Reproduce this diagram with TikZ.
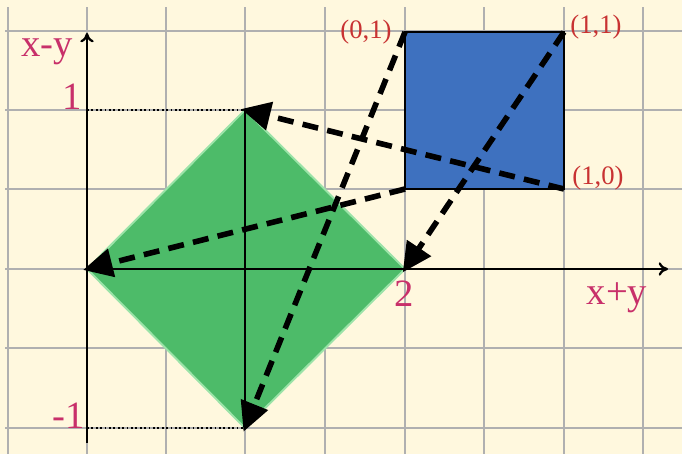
\documentclass[tikz,border=0pt]{standalone}
\usepackage{fontspec}
\setmainfont{Liberation Serif}
\usetikzlibrary{arrows.meta}
\definecolor{bgc}{HTML}{FFF8DE}
\definecolor{gridc}{HTML}{B0B0B0}
\definecolor{greenf}{HTML}{4DBB69}
\definecolor{greene}{HTML}{9BE3A8}
\definecolor{bluef}{HTML}{3E71BF}
\definecolor{labc}{HTML}{C8306A}
\definecolor{cornc}{HTML}{C83232}
\tikzset{
  axis/.style={line width=1.7pt,-{To[length=7pt,width=10pt]}},
  mapArrow/.style={line width=4.2pt,dash pattern=on 12pt off 7pt,-{Triangle[length=22pt,width=21pt]},shorten >=-3pt},
  ticklab/.style={text=labc,font=\fontsize{29}{29}\selectfont,inner sep=0pt},
  cornlab/.style={text=cornc,font=\fontsize{20}{20}\selectfont,inner sep=0pt},
  dotline/.style={line width=1.3pt,dotted}
}
\begin{document}
\begin{tikzpicture}[x=0.75pt,y=-0.75pt]
\fill[bgc] (0,0) rectangle (682,454);
\useasboundingbox (0,0) rectangle (682,454);
% grid
\foreach \gx in {8,87,166,245,325,405,484,564,643}
  \draw[gridc,line width=0.9pt] (\gx,7) -- (\gx,454);
\foreach \gy in {31,110,189,269,348,428}
  \draw[gridc,line width=0.9pt] (5,\gy) -- (682,\gy);
% diamond
\coordinate (O) at (87,269);
\coordinate (T) at (245,110);
\coordinate (R) at (405,269);
\coordinate (B) at (245,428);
\fill[greenf] (O) -- (T) -- (R) -- (B) -- cycle;
\draw[greene,line width=1.5pt] (O) -- (T) -- (R) -- (B) -- cycle;
% blue square
\coordinate (S00) at (405,189);
\coordinate (S10) at (564,189);
\coordinate (S11) at (564,32);
\coordinate (S01) at (405,32);
\draw[fill=bluef,line width=1.6pt] (S00) rectangle (S11);
% axes
\coordinate (xs) at (87,269);
\coordinate (xe) at (668,269);
\coordinate (ys) at (87,443);
\coordinate (ye) at (87,33);
\draw[axis] (xs) -- (xe);
\draw[axis] (ys) -- (ye);
\draw[line width=1.3pt] (T) -- (B);
% dotted guides
\coordinate (y1) at (87,110);
\coordinate (ym1) at (87,428);
\draw[dotline] (y1) -- (T);
\draw[dotline] (ym1) -- (B);
% mapping arrows
\draw[mapArrow] (S01) -- (B);
\draw[mapArrow] (S11) -- (R);
\draw[mapArrow] (S10) -- (T);
\draw[mapArrow] (S00) -- (O);
% labels
\node[ticklab] (lxy) at (47,52) {x-y};
\node[ticklab] (l1) at (72,97) {1};
\node[ticklab] (lm1) at (69,416) {-1};
\node[ticklab] (l2) at (404,294) {2};
\node[ticklab] (lxpy) at (617,298) {x+y};
\node[cornlab] (c01) at (366,32) {(0,1)};
\node[cornlab] (c11) at (596,27) {(1,1)};
\node[cornlab] (c10) at (598,178) {(1,0)};
\end{tikzpicture}
\end{document}
